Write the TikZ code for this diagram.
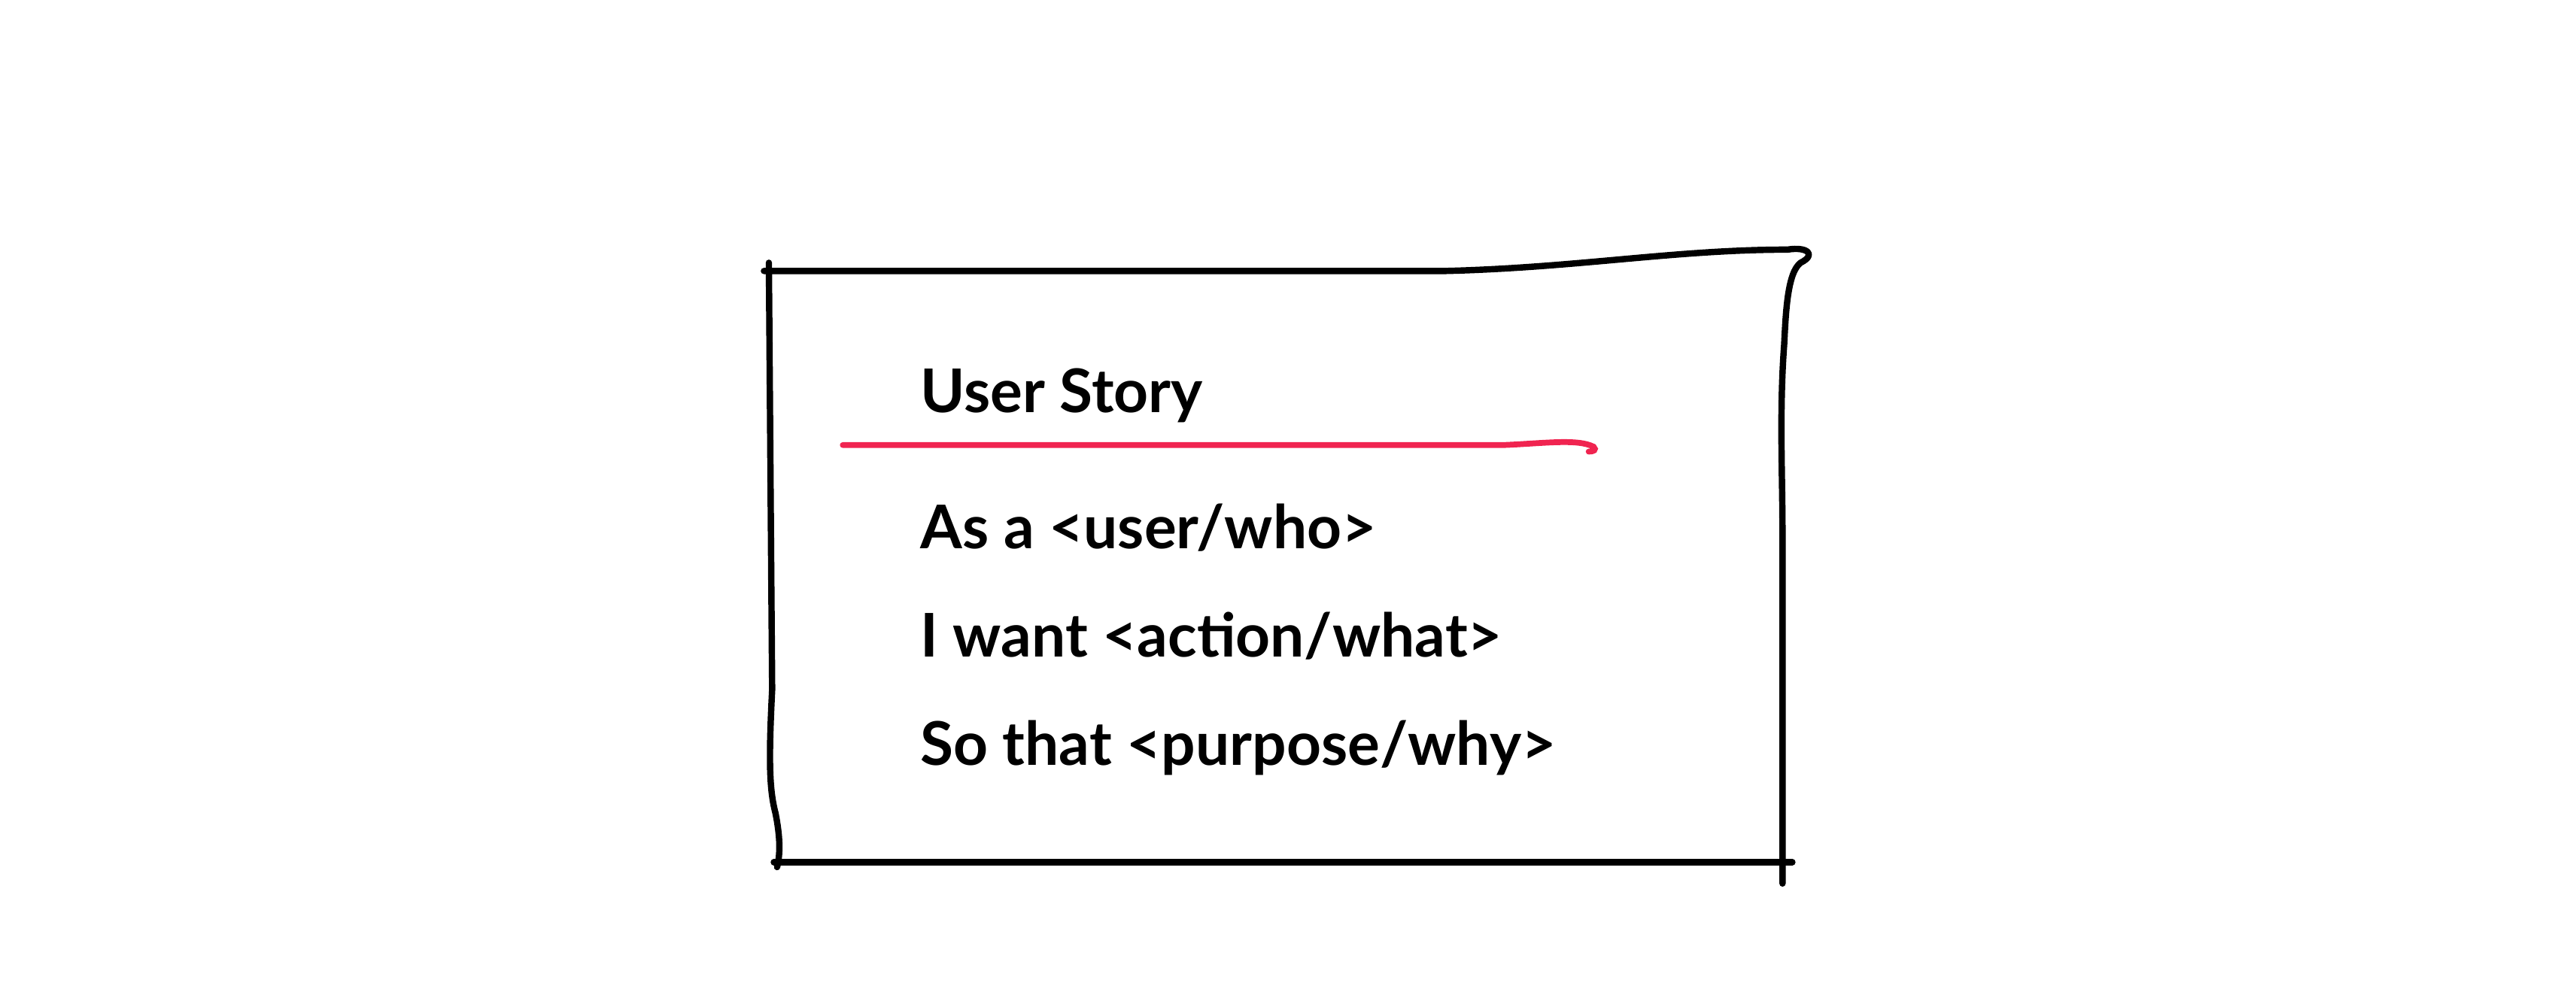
\documentclass[tikz,border=0pt]{standalone}
\usepackage{fontspec}
\setmainfont{Lato}
\begin{document}
\begin{tikzpicture}[x=0.02184cm,y=-0.02184cm,
  ink/.style={line width=2.4pt,line cap=round,line join=round,black},
  txt/.style={anchor=base west,inner sep=0,font=\fontsize{22.8}{26}\selectfont\bfseries}]
\useasboundingbox (0,0) rectangle (1568,613);
% box
\draw[ink] (468,160) -- (470,420) .. controls (468,460) and (468,480) .. (472,495) .. controls (475,510) and (475,520) .. (473,528);
\draw[ink] (465,165) -- (880,165) .. controls (960,163) and (1020,152) .. (1088,152) .. controls (1100,150) and (1106,155) .. (1096,160) .. controls (1088,166) and (1087,190) .. (1086,210) .. controls (1083,250) and (1085,290) .. (1085,325) -- (1085,538);
\draw[ink] (471,525) -- (1091,525);
% red underline
\draw[line width=2.2pt,line cap=round,color={rgb,255:red,240;green,36;blue,80}] (513,271) -- (915,271) .. controls (940,270) and (960,267) .. (970,272) .. controls (972,274) and (970,275) .. (967,275);
\node[txt] (t) at (560,251) {User Story};
\node[txt] (a) at (560,334) {As a <user/who>};
\node[txt] (b) at (560,400) {I want <action/what>};
\node[txt] (c) at (560,466) {So that <purpose/why>};
\end{tikzpicture}
\end{document}
